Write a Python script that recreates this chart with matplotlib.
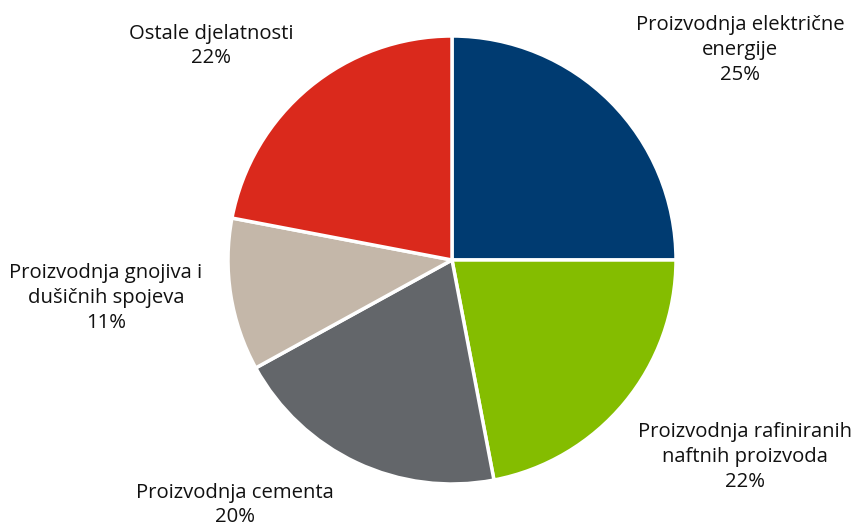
import matplotlib.pyplot as plt

plt.rcParams['font.family'] = ['Open Sans', 'DejaVu Sans']

sectors = ["Proizvodnja električne\nenergije",
           "Proizvodnja rafiniranih\nnaftnih proizvoda",
           "Proizvodnja cementa",
           "Proizvodnja gnojiva i\ndušičnih spojeva",
           "Ostale djelatnosti"]
shares = [25, 22, 20, 11, 22]
colors = ["#003B71", "#84BD00", "#63666A", "#C4B7A9", "#DA291C"]

# label placement in pixel space (x, y from top)
label_pos = [(740, 50), (745, 457), (235, 505), (106, 298), (211, 46)]

W, H = 854, 526
fig = plt.figure(figsize=(W / 100, H / 100), dpi=100)
ax = fig.add_axes([0, 0, 1, 1])

ax.pie(shares, colors=colors, startangle=90, counterclock=False,
       center=(452, H - 260), radius=224, frame=True,
       wedgeprops=dict(edgecolor='white', linewidth=2.5))
ax.set_xlim(0, W)
ax.set_ylim(0, H)
ax.set_aspect('equal')
ax.axis('off')

for name, val, (x, y) in zip(sectors, shares, label_pos):
    ax.text(x, H - y, f"{name}\n{val}%", ha='center', va='center',
            fontsize=14.6, color='#111111', linespacing=1.33)

fig.savefig("out.png", dpi=100)
